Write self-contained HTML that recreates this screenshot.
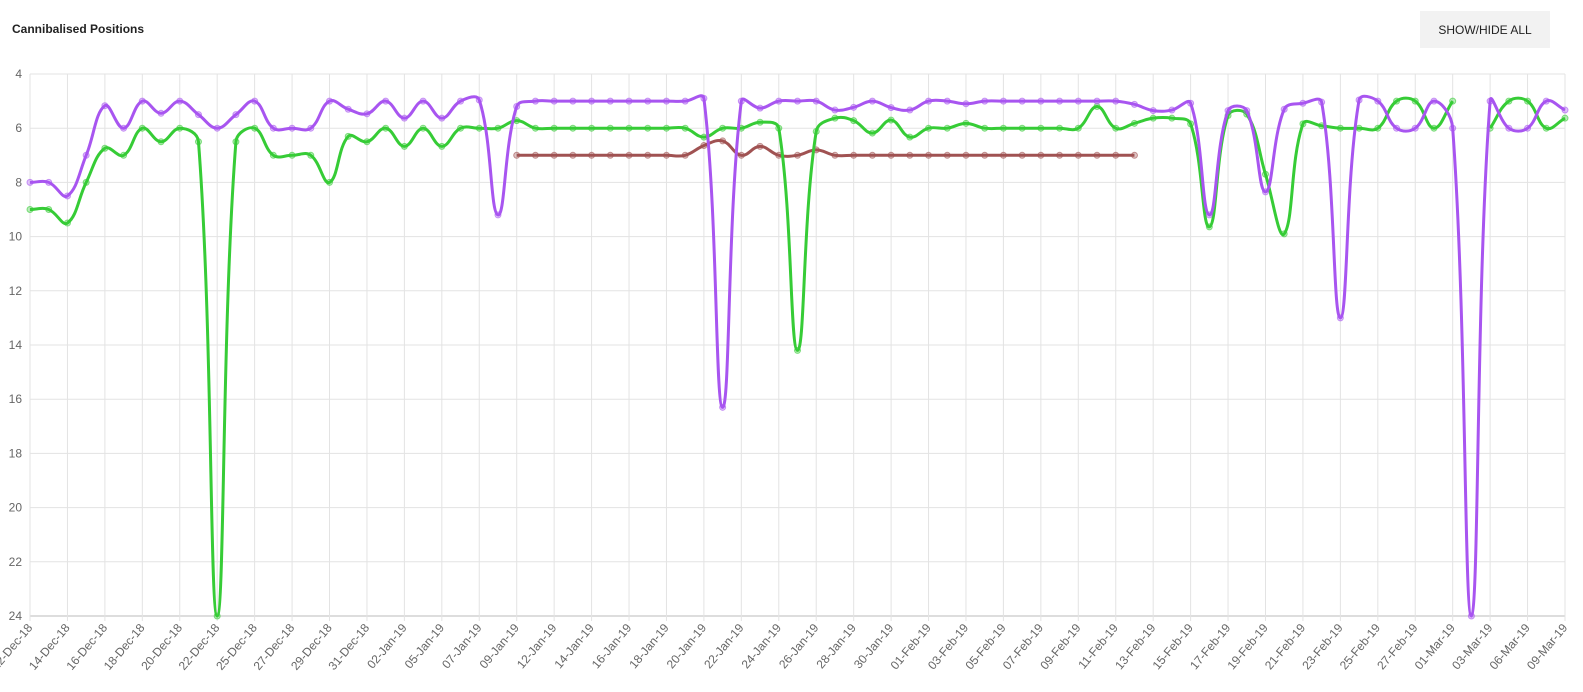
<!DOCTYPE html>
<html><head><meta charset="utf-8">
<style>
body{margin:0;background:#fff;font-family:"Liberation Sans",sans-serif;}
#wrap{position:relative;width:1583px;height:692px;overflow:hidden;}
#title{position:absolute;left:12px;top:22px;font-size:12px;font-weight:bold;color:#222;}
#btn{position:absolute;left:1420px;top:11px;width:130px;height:37px;background:#f2f2f2;border:none;font-family:"Liberation Sans",sans-serif;font-size:12px;color:#222;font-weight:500;}
</style></head><body>
<div id="wrap">
<div id="title">Cannibalised Positions</div>
<button id="btn">SHOW/HIDE ALL</button>
<svg id="chart" width="1583" height="692" style="position:absolute;left:0;top:0"></svg>
</div>
<script>
const categories=["12-Dec-18","13-Dec-18","14-Dec-18","15-Dec-18","16-Dec-18","17-Dec-18","18-Dec-18","19-Dec-18","20-Dec-18","21-Dec-18","22-Dec-18","23-Dec-18","25-Dec-18","26-Dec-18","27-Dec-18","28-Dec-18","29-Dec-18","30-Dec-18","31-Dec-18","01-Jan-19","02-Jan-19","03-Jan-19","05-Jan-19","06-Jan-19","07-Jan-19","08-Jan-19","09-Jan-19","11-Jan-19","12-Jan-19","13-Jan-19","14-Jan-19","15-Jan-19","16-Jan-19","17-Jan-19","18-Jan-19","19-Jan-19","20-Jan-19","21-Jan-19","22-Jan-19","23-Jan-19","24-Jan-19","25-Jan-19","26-Jan-19","27-Jan-19","28-Jan-19","29-Jan-19","30-Jan-19","31-Jan-19","01-Feb-19","02-Feb-19","03-Feb-19","04-Feb-19","05-Feb-19","06-Feb-19","07-Feb-19","08-Feb-19","09-Feb-19","10-Feb-19","11-Feb-19","12-Feb-19","13-Feb-19","14-Feb-19","15-Feb-19","16-Feb-19","17-Feb-19","18-Feb-19","19-Feb-19","20-Feb-19","21-Feb-19","22-Feb-19","23-Feb-19","24-Feb-19","25-Feb-19","26-Feb-19","27-Feb-19","28-Feb-19","01-Mar-19","02-Mar-19","03-Mar-19","05-Mar-19","06-Mar-19","08-Mar-19","09-Mar-19"];
const purpleValues=[8,8,8.5,7,5.17,6,5,5.45,5,5.5,6,5.5,5,6,6,6,5,5.3,5.47,5,5.63,5,5.63,5,4.96,9.2,5.2,5,5,5,5,5,5,5,5,5,4.9,16.3,5,5.26,5,5,5,5.33,5.23,5,5.24,5.33,5,5,5.1,5,5,5,5,5,5,5,5,5.12,5.35,5.33,5.08,9.2,5.35,5.35,8.35,5.3,5.08,5.04,13,4.96,5,6,6,5,6,24,5,6,6,5,5.33];
const greenValues=[9,9,9.5,8,6.74,7,6,6.5,6,6.5,24,6.5,6,7,7,7,8,6.3,6.5,6,6.67,6,6.67,6,6,6,5.72,6,6,6,6,6,6,6,6,6,6.33,6,6,5.78,6,14.2,6.12,5.63,5.72,6.18,5.7,6.33,6,6,5.82,6,6,6,6,6,6,5.2,6,5.82,5.63,5.63,5.84,9.64,5.53,5.48,7.7,9.9,5.84,5.91,6,6,6,5,5,6,5,null,6,5,5,6,5.63];
const brownValues=[null,null,null,null,null,null,null,null,null,null,null,null,null,null,null,null,null,null,null,null,null,null,null,null,null,null,7,7,7,7,7,7,7,7,7,7,6.64,6.47,7,6.67,7,7,6.8,7,7,7,7,7,7,7,7,7,7,7,7,7,7,7,7,7,null,null,null,null,null,null,null,null,null,null,null,null,null,null,null,null,null,null,null,null,null,null,null];
const yTicks=[4,6,8,10,12,14,16,18,20,22,24];

const NS="http://www.w3.org/2000/svg";
const svg=document.getElementById('chart');
const X0=30,X1=1565,Y0=74,Y1=616,YMIN=4,YMAX=24;
function xs(i){return X0+i*(X1-X0)/(categories.length-1);}
function ys(v){return Y0+(v-YMIN)*(Y1-Y0)/(YMAX-YMIN);}
function mk(tag,attrs){const e=document.createElementNS(NS,tag);for(const k in attrs)e.setAttribute(k,attrs[k]);svg.appendChild(e);return e;}

yTicks.forEach(t=>{
  const l=mk('line',{x1:X0,x2:X1,y1:ys(t),y2:ys(t),stroke:(t===24?'#bbb':'#e3e3e3'),'stroke-width':1});
  
  
  const tx=mk('text',{x:X0-8,y:ys(t)+4,'text-anchor':'end','font-size':12,fill:'#666','font-family':'Liberation Sans, sans-serif'});
  tx.textContent=t;
  
  
});
categories.forEach((c,i)=>{
  if(i%2!==0)return;
  const x=xs(i);
  const g=mk('line',{x1:x,x2:x,y1:Y0,y2:Y1+5,stroke:'#e3e3e3','stroke-width':1});
  
  
  const tx=mk('text',{x:x+3,y:Y1+12,'text-anchor':'end','font-size':12,fill:'#666','font-family':'Liberation Sans, sans-serif',transform:`rotate(-50 ${x+3} ${Y1+12})`});
  tx.textContent=c;
  
  
});

function drawSeries(vals,color,name){
  const pts=[];
  vals.forEach((v,i)=>{pts.push(v==null?null:{x:xs(i),y:ys(v)});});
  // split into segments
  const segs=[];let cur=[];
  pts.forEach(p=>{if(p){cur.push(p);}else{if(cur.length)segs.push(cur);cur=[];}});
  if(cur.length)segs.push(cur);
  const t=0.4;
  segs.forEach(seg=>{
    const cps=seg.map((p,i)=>{
      const pr=seg[i-1]||p,nx=seg[i+1]||p;
      const d01=Math.hypot(p.x-pr.x,p.y-pr.y),d12=Math.hypot(nx.x-p.x,nx.y-p.y);
      let s01=d01/(d01+d12),s12=d12/(d01+d12);
      if(isNaN(s01))s01=0;if(isNaN(s12))s12=0;
      const fa=t*s01,fb=t*s12;
      return {px:p.x-fa*(nx.x-pr.x),py:p.y-fa*(nx.y-pr.y),nx:p.x+fb*(nx.x-pr.x),ny:p.y+fb*(nx.y-pr.y)};
    });
    let d=`M${seg[0].x},${seg[0].y}`;
    for(let i=1;i<seg.length;i++){
      const a=cps[i-1],b=cps[i];
      const c1y=Math.min(Y1,Math.max(Y0,a.ny)),c2y=Math.min(Y1,Math.max(Y0,b.py));
      d+=` C${a.nx},${c1y} ${b.px},${c2y} ${seg[i].x},${seg[i].y}`;
    }
    const p=mk('path',{d:d,fill:'none',stroke:color,'stroke-width':3});
    
    
  });
  pts.forEach(p=>{
    if(!p)return;
    const c=mk('circle',{cx:p.x,cy:p.y,r:3,fill:color,'fill-opacity':0.35,stroke:color,'stroke-opacity':0.6,'stroke-width':1});
    
    
  });
}
drawSeries(brownValues,'#a05252','brown-series');
drawSeries(greenValues,'#36cc36','green-series');
drawSeries(purpleValues,'#a855f0','purple-series');
</script>
</body></html>
